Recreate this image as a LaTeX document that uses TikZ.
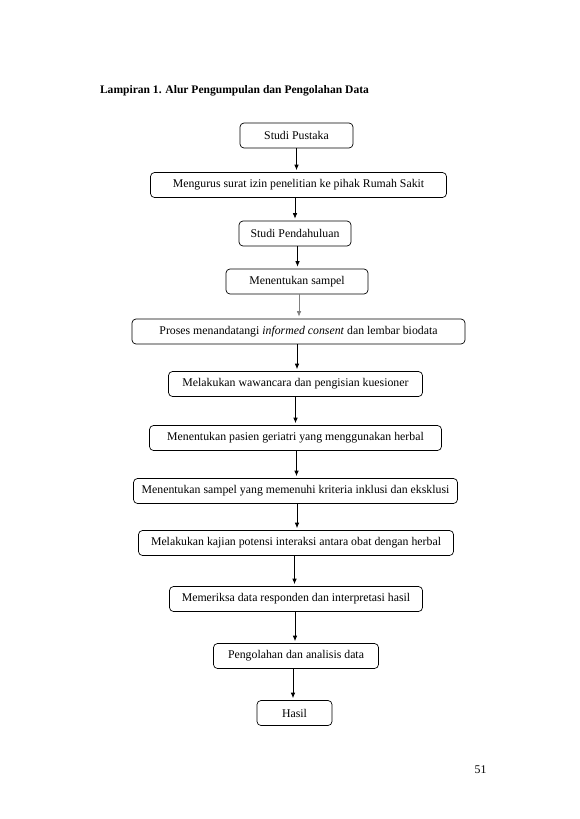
\documentclass[tikz,border=0pt]{standalone}
\usepackage{fontspec}
\setmainfont{Liberation Serif}
\usetikzlibrary{calc,arrows.meta}
\tikzset{>={Latex[length=5.5pt,width=4.5pt]}}
\tikzset{stepbox/.style={draw, rounded corners=4pt, line width=0.7pt,
  minimum height=25pt, inner sep=2pt, font=\fontsize{11.8}{13}\selectfont}}
\tikzset{flow/.style={->, line width=0.7pt, shorten >=2pt}}

\begin{document}
\begin{tikzpicture}[x=1pt,y=-1pt]

    \useasboundingbox (0,0) rectangle (579,819);

    \node[anchor=base west, font=\fontsize{11.55}{13}\selectfont\bfseries] (judul) at (96.5,93) {Lampiran 1. Alur Pengumpulan dan Pengolahan Data};

    \node[stepbox, minimum width=113pt] (pustaka) at (296.5,135.5) {Studi Pustaka};
    \node[stepbox, minimum width=296pt] (izin) at (298.5,185) {Mengurus surat izin penelitian ke pihak Rumah Sakit};
    \node[stepbox, minimum width=112pt] (pendahuluan) at (295,233.5) {Studi Pendahuluan};
    \node[stepbox, minimum width=142pt] (sampel) at (297,281.5) {Menentukan sampel};
    \node[stepbox, minimum width=333pt] (consent) at (298.5,331.5) {Proses menandatangi \textit{informed consent} dan lembar biodata};
    \node[stepbox, minimum width=254pt] (wawancara) at (295.5,384) {Melakukan wawancara dan pengisian kuesioner};
    \node[stepbox, minimum width=292pt] (geriatri) at (295.5,438) {Menentukan pasien geriatri yang menggunakan herbal};
    \node[stepbox, minimum width=324pt] (kriteria) at (295.5,491) {Menentukan sampel yang memenuhi kriteria inklusi dan eksklusi};
    \node[stepbox, minimum width=315pt] (kajian) at (296,543) {Melakukan kajian potensi interaksi antara obat dengan herbal};
    \node[stepbox, minimum width=253pt] (periksa) at (296,599) {Memeriksa data responden dan interpretasi hasil};
    \node[stepbox, minimum width=165pt] (olah) at (296,656) {Pengolahan dan analisis data};
    \node[stepbox, minimum width=75pt] (hasil) at (294.5,713) {Hasil};

    \draw[flow] (pustaka.south) -- (pustaka.south |- izin.north);
    \draw[flow] (izin.south -| pendahuluan.south) -- (pendahuluan.north);
    \draw[flow] ($(pendahuluan.south)+(2.5,0)$) -- ($(sampel.north)+(0.5,0)$);
    \draw[flow, gray] ($(sampel.south)+(2,0)$) -- ($(sampel.south |- consent.north)+(2,0)$);
    \draw[flow] (consent.south -| sampel.south) -- (sampel.south |- wawancara.north);
    \draw[flow] (wawancara.south) -- (wawancara.south |- geriatri.north);
    \draw[flow] ($(geriatri.south)+(1,0)$) -- ($(geriatri.south |- kriteria.north)+(1,0)$);
    \draw[flow] ($(kriteria.south)+(1.5,0)$) -- ($(kriteria.south |- kajian.north)+(1.5,0)$);
    \draw[flow] ($(kajian.south)+(-1.5,0)$) -- ($(kajian.south |- periksa.north)+(-1.5,0)$);
    \draw[flow] ($(periksa.south)+(-1,0)$) -- ($(periksa.south |- olah.north)+(-1,0)$);
    \draw[flow] ($(olah.south)+(-3,0)$) -- ($(olah.south |- hasil.north)+(-3,0)$);

    \node[anchor=base east, font=\fontsize{11.8}{13}\selectfont] (halaman) at (490,773) {51};

\end{tikzpicture}
\end{document}
